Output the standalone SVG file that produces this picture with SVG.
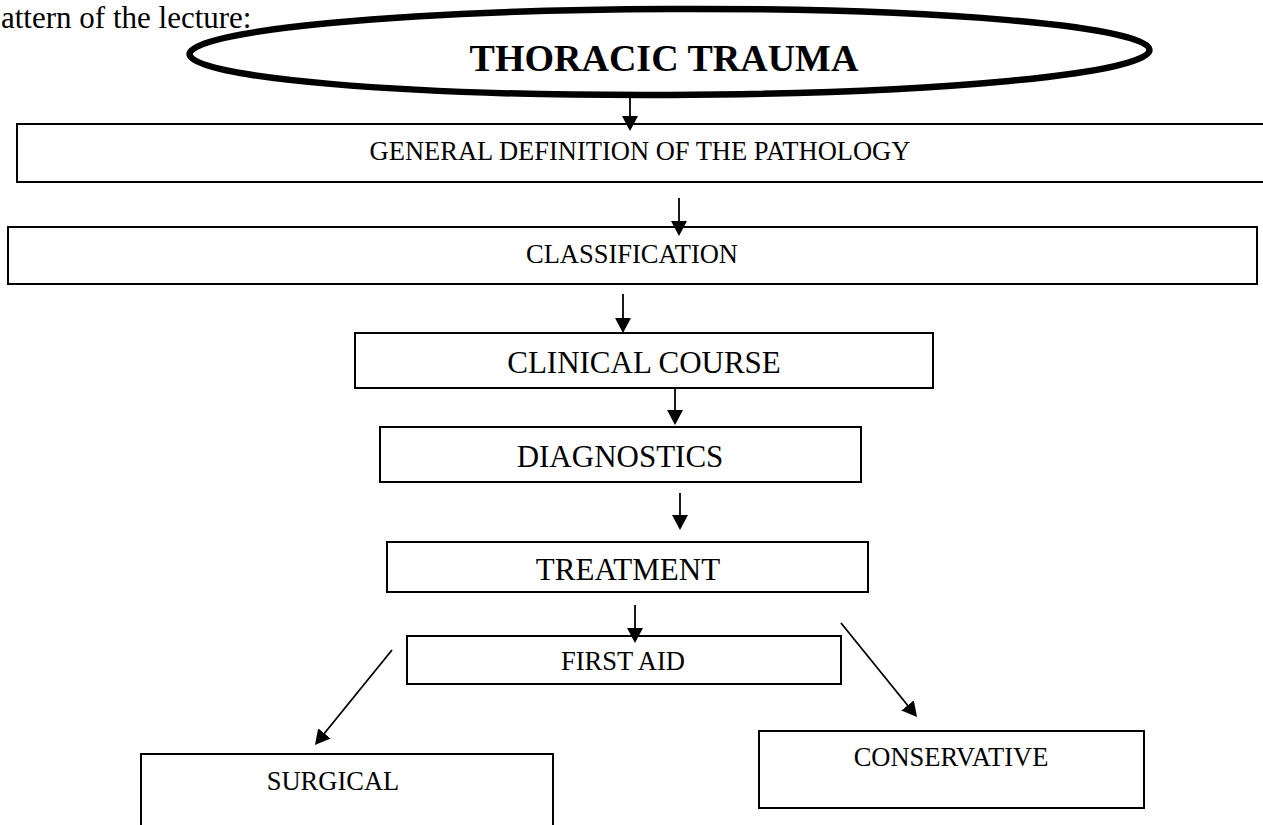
<svg xmlns="http://www.w3.org/2000/svg" width="1263" height="825" viewBox="0 0 1263 825">
<style>
text{font-family:"Liberation Serif","Times New Roman",serif;fill:#000}
.box{fill:#fff;stroke:#000;stroke-width:2}
.t26{font-size:26.5px;text-anchor:middle}
.t31{font-size:31px;text-anchor:middle}
.conn line{stroke:#000;stroke-width:1.8;marker-end:url(#ah)}
</style>
<defs>
<marker id="ah" markerUnits="userSpaceOnUse" markerWidth="16" markerHeight="16" refX="7" refY="8" orient="auto">
<path d="M0,0 L15,8 L0,16 z" fill="#000"/>
</marker>
</defs>
<rect width="1263" height="825" fill="#fff"/>
<text x="1" y="28" style="font-size:31px">attern of the lecture:</text>

<g id="n-title">
<ellipse cx="669.5" cy="52" rx="480" ry="43" transform="rotate(-0.25 669.5 52)" fill="none" stroke="#000" stroke-width="6.5"/>
<text x="664" y="71" style="font-size:38px;font-weight:bold;text-anchor:middle">THORACIC TRAUMA</text>
</g>
<g id="n-general">
<rect class="box" x="17" y="124" width="1260" height="58"/>
<text class="t26" x="640" y="160">GENERAL DEFINITION OF THE PATHOLOGY</text>
</g>
<g id="n-classification">
<rect class="box" x="8" y="227" width="1249" height="57"/>
<text class="t26" x="632" y="263">CLASSIFICATION</text>
</g>
<g id="n-clinical">
<rect class="box" x="355" y="333" width="578" height="55"/>
<text class="t31" x="644" y="373">CLINICAL COURSE</text>
</g>
<g id="n-diagnostics">
<rect class="box" x="380" y="427" width="481" height="55"/>
<text class="t31" x="620" y="467">DIAGNOSTICS</text>
</g>
<g id="n-treatment">
<rect class="box" x="387" y="542" width="481" height="50"/>
<text class="t31" x="628" y="580">TREATMENT</text>
</g>
<g id="n-firstaid">
<rect class="box" x="407" y="636" width="434" height="48"/>
<text class="t26" x="623" y="670">FIRST AID</text>
</g>
<g id="n-surgical">
<rect class="box" x="141" y="754" width="412" height="90"/>
<text class="t26" x="333" y="790">SURGICAL</text>
</g>
<g id="n-conservative">
<rect class="box" x="759" y="731" width="385" height="77"/>
<text class="t26" x="951" y="766">CONSERVATIVE</text>
</g>

<g id="connectors" class="conn">
<line x1="630" y1="93" x2="630" y2="123"/>
<line x1="679" y1="198" x2="679" y2="228"/>
<line x1="623" y1="294" x2="623" y2="325"/>
<line x1="675" y1="388" x2="675" y2="417"/>
<line x1="680" y1="493" x2="680" y2="522"/>
<line x1="635" y1="605" x2="635" y2="635"/>
<line x1="392" y1="650" x2="320" y2="738.8"/>
<line x1="841" y1="623" x2="912" y2="710.8"/>
</g>
</svg>
